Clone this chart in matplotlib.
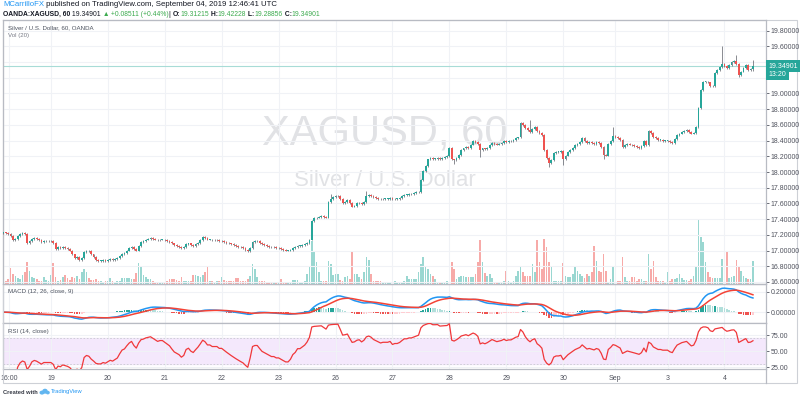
import matplotlib.pyplot as plt
import matplotlib.patches as mpatches
from matplotlib.lines import Line2D
import numpy as np
import pandas as pd

plt.rcParams['font.family'] = ['Liberation Sans', 'DejaVu Sans']

# XAG/USD hourly closes, one list per trading day
close_pre = [17.23, 17.22, 17.21, 17.19, 17.13, 17.15, 17.19, 17.21, 17.22, 17.21,
             17.10, 17.12, 17.15, 17.16, 17.15, 17.13, 17.11, 17.12, 17.12, 17.12]
close_19 = [17.12, 17.10, 17.02, 17.04, 17.03, 17.04, 17.03, 17.02, 17.00, 16.95, 16.90, 16.92,
            16.88, 16.90, 16.98, 17.00, 16.99, 16.95, 16.92, 16.88, 16.87, 16.87, 16.88, 16.87]
close_20 = [16.88, 16.89, 16.88, 16.89, 16.90, 16.93, 16.96, 16.97, 17.00, 17.03, 17.05, 17.02,
            17.00, 17.06, 17.11, 17.12, 17.14, 17.15, 17.16, 17.15, 17.14, 17.13, 17.14, 17.14]
close_21 = [17.13, 17.12, 17.11, 17.09, 17.07, 17.06, 17.05, 17.03, 17.04, 17.08, 17.09, 17.07,
            17.06, 17.08, 17.10, 17.13, 17.17, 17.16, 17.14, 17.14, 17.13, 17.13, 17.13, 17.12]
close_22 = [17.12, 17.11, 17.10, 17.09, 17.08, 17.07, 17.06, 17.05, 17.04, 17.03, 17.01, 16.99,
            17.03, 17.11, 17.12, 17.12, 17.10, 17.08, 17.07, 17.06, 17.05, 17.04, 17.04, 17.03]
close_23 = [17.03, 17.02, 17.01, 17.00, 17.00, 17.01, 17.03, 17.04, 17.06, 17.06, 17.07, 17.08,
            17.10, 17.14, 17.38, 17.41, 17.42, 17.43, 17.44, 17.43, 17.42, 17.62, 17.66, 17.68]
close_26 = [17.69, 17.70, 17.66, 17.61, 17.62, 17.64, 17.60, 17.56, 17.57, 17.60, 17.61, 17.59,
            17.62, 17.69, 17.71, 17.70, 17.68, 17.67, 17.66, 17.65, 17.66, 17.66, 17.66, 17.67]
close_27 = [17.65, 17.66, 17.66, 17.67, 17.69, 17.71, 17.71, 17.72, 17.72, 17.73, 17.74, 17.75,
            17.90, 18.01, 18.08, 18.16, 18.18, 18.17, 18.17, 18.18, 18.17, 18.18, 18.19, 18.20]
close_28 = [18.31, 18.16, 18.15, 18.18, 18.22, 18.28, 18.30, 18.32, 18.31, 18.35, 18.39, 18.38,
            18.36, 18.28, 18.30, 18.29, 18.31, 18.34, 18.37, 18.36, 18.35, 18.36, 18.37, 18.39]
close_29 = [18.38, 18.39, 18.39, 18.41, 18.43, 18.44, 18.62, 18.60, 18.56, 18.53, 18.51, 18.55,
            18.57, 18.52, 18.50, 18.47, 18.28, 18.18, 18.12, 18.15, 18.24, 18.26, 18.26, 18.27]
close_30 = [18.17, 18.21, 18.25, 18.28, 18.31, 18.34, 18.36, 18.38, 18.43, 18.40, 18.37,
            18.38, 18.37, 18.36, 18.38, 18.37, 18.32, 18.22, 18.21, 18.36, 18.40, 18.46]
close_sep2 = [18.45, 18.43, 18.41, 18.32, 18.34, 18.36, 18.35, 18.34, 18.33, 18.32, 18.31,
              18.33, 18.39, 18.34, 18.52, 18.50, 18.45, 18.43, 18.41, 18.41, 18.40, 18.40]
close_sep3 = [18.40, 18.38, 18.37, 18.42, 18.47, 18.49, 18.51, 18.52, 18.53, 18.51, 18.49, 18.50,
              18.57, 18.81, 19.04, 19.15, 19.15, 19.14, 19.10, 19.09, 19.26, 19.30, 19.34, 19.38]
close_sep4 = [19.35, 19.33, 19.36, 19.40, 19.41, 19.38, 19.24, 19.28, 19.32, 19.36, 19.30,
              19.31, 19.34901]

# volume, read as bar height (pane pixels)
vol_pre = [4, 3, 5, 16, 10, 8, 6, 5, 9, 12, 22, 13, 7, 6, 5, 3, 3, 7, 4, 3]
vol_19 = [9, 21, 7, 3, 4, 7, 9, 6, 4, 7, 6, 8, 5, 12, 15, 12, 6, 4, 4, 5, 3, 3, 2, 3]
vol_20 = [3, 6, 3, 2, 3, 3, 6, 6, 6, 6, 5, 5, 11, 21, 17, 9, 7, 5, 5, 3, 2, 2, 2, 2]
vol_21 = [2, 3, 5, 5, 5, 4, 3, 7, 3, 3, 3, 3, 9, 9, 8, 7, 9, 12, 17, 3, 3, 2, 3, 3]
vol_22 = [7, 4, 3, 3, 3, 3, 6, 6, 3, 3, 3, 5, 8, 20, 15, 7, 3, 3, 3, 2, 2, 2, 2, 2]
vol_23 = [2, 5, 2, 2, 2, 2, 4, 4, 4, 2, 2, 3, 10, 17, 43, 33, 22, 12, 3, 3, 3, 23, 20, 9]
vol_26 = [10, 10, 4, 3, 7, 8, 5, 32, 10, 10, 7, 5, 12, 27, 24, 10, 3, 3, 3, 3, 2, 2, 2, 2]
vol_27 = [12, 3, 2, 2, 2, 3, 8, 5, 5, 5, 5, 12, 20, 27, 17, 15, 10, 8, 5, 2, 2, 2, 2, 3]
vol_28 = [8, 22, 15, 5, 7, 8, 8, 7, 7, 7, 7, 10, 22, 44, 22, 11, 8, 10, 6, 2, 2, 2, 2, 3]
vol_29 = [13, 3, 2, 3, 8, 13, 17, 12, 8, 8, 8, 20, 12, 44, 22, 15, 45, 37, 22, 17, 3, 3, 3, 3]
vol_30 = [21, 8, 7, 7, 10, 17, 13, 10, 8, 6, 10, 8, 12, 38, 23, 13, 12, 30, 13, 2, 5, 17]
vol_sep2 = [3, 3, 3, 27, 7, 3, 3, 7, 7, 3, 5, 5, 3, 3, 30, 15, 23, 7, 3, 3, 3, 2]
vol_sep3 = [12, 3, 5, 5, 6, 10, 6, 4, 4, 3, 5, 8, 17, 65, 47, 42, 22, 12, 7, 6, 6, 6, 6, 25]
vol_sep4 = [37, 33, 6, 7, 8, 24, 17, 13, 8, 6, 5, 5, 23]

day_labels = ['16:00', '19', '20', '21', '22', '23', '26', '27', '28', '29', '30', 'Sep', '3', '4']
day_closes = [close_pre, close_19, close_20, close_21, close_22, close_23, close_26, close_27,
              close_28, close_29, close_30, close_sep2, close_sep3, close_sep4]
day_vols = [vol_pre, vol_19, vol_20, vol_21, vol_22, vol_23, vol_26, vol_27,
            vol_28, vol_29, vol_30, vol_sep2, vol_sep3, vol_sep4]

first_open = 17.22
last_price = 19.34901

# long wicks visible on the chart (bar index -> price)
wick_high = {138: 17.72, 153: 17.76, 219: 18.64, 222: 18.66, 257: 18.57,
             303: 19.60, 309: 19.49, 316: 19.42228}
wick_low = {190: 18.10, 201: 18.19, 230: 18.07, 236: 18.09, 253: 18.17,
            310: 19.21, 316: 19.28856}

closes = np.concatenate(day_closes)
vols = np.concatenate(day_vols)
opens = np.r_[first_open, closes[:-1]]
n = len(closes)
x = np.arange(n)
highs = np.maximum(opens, closes) + 0.012
lows = np.minimum(opens, closes) - 0.012
for i, v in wick_high.items():
    highs[i] = v
for i, v in wick_low.items():
    lows[i] = v
day_start = np.cumsum([0] + [len(d) for d in day_closes[:-1]])
tick_pos = np.r_[2.5, day_start[1:]]

# indicators
s = pd.Series(closes)
macd = s.ewm(span=12, adjust=False).mean() - s.ewm(span=26, adjust=False).mean()
signal = macd.ewm(span=9, adjust=False).mean()
hist = (macd - signal).values
delta = s.diff()
up = delta.clip(lower=0).ewm(alpha=1 / 14, adjust=False).mean()
dn = (-delta.clip(upper=0)).ewm(alpha=1 / 14, adjust=False).mean()
rsi = 100 - 100 / (1 + up / dn)

GREEN, RED = '#26a69a', '#ef5350'
TXT = '#50535e'
GRID = '#f0f2f6'
BORDER = '#b8bbc3'

fig = plt.figure(figsize=(8, 4), dpi=100)


def fbox(x0, y0, x1, y1):
    return [x0 / 800, 1 - y1 / 400, (x1 - x0) / 800, (y1 - y0) / 400]


L, R = 3, 766
vax = fig.add_axes(fbox(L, 20, R, 283.5))
ax = fig.add_axes(fbox(L, 20, R, 283.5), sharex=vax)
mx = fig.add_axes(fbox(L, 283.5, R, 323.3), sharex=ax)
rx = fig.add_axes(fbox(L, 323.3, R, 369.3), sharex=ax)
vax.set_zorder(0)
ax.set_zorder(1)
ax.patch.set_visible(False)
ax.set_xlim(-0.2, 321.5)

# volume + watermark on the back axes
up_bar = closes >= opens
vax.bar(x, vols, width=0.7, color=np.where(up_bar, '#9ad7d1', '#f7aaa8'), linewidth=0, zorder=2)
vax.set_ylim(0, 263.5)
vax.axis('off')
vax.text(0.5, 0.57, 'XAGUSD, 60', transform=vax.transAxes, ha='center', va='center',
         fontsize=30, color='#e1e2e5', zorder=0)
vax.text(0.5, 0.39, 'Silver / U.S. Dollar', transform=vax.transAxes, ha='center', va='center',
         fontsize=16, color='#e1e2e5', zorder=0)

# candles
ax.vlines(x, lows, highs, color='#5a5d66', lw=0.5, zorder=3)
body = np.maximum(np.abs(closes - opens), 0.005)
ax.bar(x, body, bottom=np.minimum(opens, closes), width=0.75,
       color=np.where(up_bar, GREEN, RED), linewidth=0, zorder=4)
ax.axhline(last_price, color='#a8dcd7', lw=0.8, zorder=2)
ax.set_ylim(16.58, 19.936)
pticks = np.arange(16.6, 19.81, 0.2)
ax.set_yticks(pticks)
# the 19.4 and 19.2 labels sit under the last-price boxes
ax.set_yticklabels(['' if abs(v - 19.3) < 0.15 else f'{v:.5f}' for v in pticks])
for label, dy in [(f'{last_price:.5f}', 0), ('13:20', -6.0)]:
    ax.annotate(label, xy=(1, last_price), xycoords=('axes fraction', 'data'),
                xytext=(1.8, dy), textcoords='offset points', ha='left', va='center',
                fontsize=5, color='white',
                bbox=dict(boxstyle='square,pad=0.35', fc=GREEN, ec='none'),
                annotation_clip=False, zorder=10)

# MACD
hcol = []
for i, h in enumerate(hist):
    prev = hist[i - 1] if i else h
    if h >= 0:
        hcol.append('#26a69a' if h >= prev else '#b2dfdb')
    else:
        hcol.append('#ffcdd2' if h >= prev else '#ef5350')
mx.bar(x, hist, width=0.7, color=hcol, linewidth=0, zorder=2)
mx.plot(x, macd, color='#2196f3', lw=1.1, zorder=3)
mx.plot(x, signal, color='#f44336', lw=1.1, zorder=4)
mx.set_ylim(-0.11, 0.283)
mx.set_yticks([0, 0.2])
mx.set_yticklabels(['0.00000', '0.20000'])

# RSI
rx.axhspan(30, 70, color='#f4e8fc', zorder=0)
rx.axhline(70, color='#c9c9d0', lw=0.6, ls=(0, (2, 2)), zorder=1)
rx.axhline(30, color='#c9c9d0', lw=0.6, ls=(0, (2, 2)), zorder=1)
rx.plot(x, rsi, color='#f0373a', lw=0.9, zorder=3)
rx.set_ylim(21.9, 93.3)
rx.set_yticks([25, 50, 75])
rx.set_yticklabels(['25.00', '50.00', '75.00'])

for a in (ax, mx, rx):
    a.yaxis.tick_right()
    a.tick_params(axis='y', length=2, pad=1.2, labelsize=5, colors=TXT, width=0.6)
    a.tick_params(axis='x', length=0, labelbottom=False)
    a.set_xticks(tick_pos)
    a.grid(True, color=GRID, lw=0.8, zorder=0)
    a.set_axisbelow(True)
    for sp in a.spines.values():
        sp.set_color(BORDER)
        sp.set_linewidth(0.9)
rx.tick_params(axis='x', labelbottom=True, labelsize=5, labelcolor=TXT, pad=3.8)
rx.set_xticklabels(day_labels)


def ptxt(x_px, y_px, s_, **kw):
    kw.setdefault('fontsize', 5.5)
    kw.setdefault('color', '#131722')
    return fig.text(x_px / 800, 1 - y_px / 400, s_, ha='left', va='center', **kw)


# pane captions
ptxt(8, 28, 'Silver / U.S. Dollar, 60, OANDA', color='#4c525e', fontsize=4.4)
ptxt(8, 36, 'Vol (20)', color='#787b86', fontsize=4.4)
ptxt(8, 292, 'MACD (12, 26, close, 9)', color='#4c525e', fontsize=4.4)
ptxt(8, 331, 'RSI (14, close)', color='#4c525e', fontsize=4.4)


def chain(x_px, y_px, pieces, size, gap=0.0):
    r = fig.canvas.get_renderer()
    out = []
    for s_, kw in pieces:
        t = ptxt(x_px, y_px, s_, fontsize=size, **kw)
        x_px += t.get_window_extent(renderer=r).width + gap
        out.append(t)
    return out, x_px


def fitted_chain(x_px, y_px, pieces, size, right, gap=0.0):
    texts, end = chain(x_px, y_px, pieces, size, gap)
    for t in texts:
        t.remove()
    size = size * (right - x_px) / (end - x_px)
    return chain(x_px, y_px, pieces, size, gap)


HG = '#3dab4f'
fitted_chain(3, 5, [('MCarrilloFX', dict(color='#2196f3')),
                    (' published on TradingView.com, September 04, 2019 12:46:41 UTC', {})],
             5.5, 277)
chain(3, 14, [('OANDA:XAGUSD, 60', dict(fontweight='bold')),
              (' 19.34901', {}), (' ▲', dict(color=HG)),
              (' +0.08511 (+0.44%)', dict(color=HG)), ('| ', {}),
              ('O:', dict(fontweight='bold')), ('19.31215', dict(color=HG)),
              (' H:', dict(fontweight='bold')), ('19.42228', dict(color=HG)),
              (' L:', dict(fontweight='bold')), ('19.28856', dict(color=HG)),
              (' C:', dict(fontweight='bold')), ('19.34901', dict(color=HG))],
      4.9)

# footer with small cloud logo
fitted_chain(3, 392, [('Created with', dict(fontweight='bold', color='#363a45'))], 5, 38)
for cx, cy, w, h in [(42, 392.6, 5, 4), (45, 391.2, 5.5, 5), (47.8, 392.6, 4, 3.6)]:
    fig.add_artist(mpatches.Ellipse((cx / 800, 1 - cy / 400), w / 800, h / 400,
                                    transform=fig.transFigure, fc='#62b6f0', ec='none'))
fitted_chain(51, 392, [('TradingView', dict(color='#2196f3'))], 5, 83)

# outer frame
fig.add_artist(mpatches.Rectangle((3 / 800, 1 - 383 / 400), 794 / 800, 363 / 400,
                                  transform=fig.transFigure, fill=False, ec='#cdd0d6', lw=0.8))
fig.add_artist(Line2D([766 / 800, 766 / 800], [1 - 369.3 / 400, 1 - 383 / 400],
                      transform=fig.transFigure, color=BORDER, lw=0.9))

fig.savefig('out.png', dpi=100)
